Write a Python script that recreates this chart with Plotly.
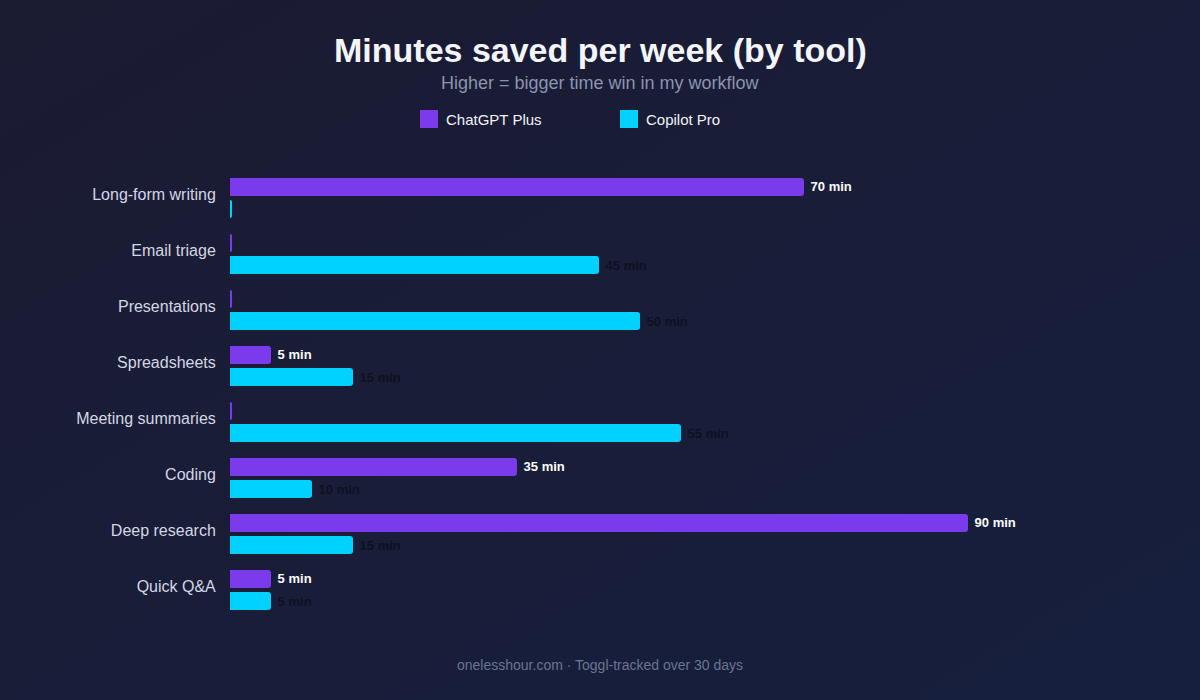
import base64
import plotly.graph_objects as go

categories = ["Long-form writing", "Email triage", "Presentations", "Spreadsheets",
              "Meeting summaries", "Coding", "Deep research", "Quick Q&A"]
chatgpt_plus = [70, 0, 0, 5, 0, 35, 90, 5]
copilot_pro = [0, 45, 50, 15, 55, 10, 15, 5]
series_names = ["ChatGPT Plus", "Copilot Pro"]
series_colors = ["#7c3aed", "#00d2ff"]
label_colors = ["#ffffff", "#0d1120"]

W, H = 1200, 700
ML, MR, MT, MB = 230, 150, 170, 82
PW, PH = W - ML - MR, H - MT - MB
MIN_LEN = 0.25  # minimum rendered bar length (like minBarLength)
FONT = "Liberation Sans, Arial, sans-serif"

def px_x(p):
    return (p - ML) / PW

def px_y(p):
    return (H - MB - p) / PH

fig = go.Figure()
for name, vals, col, lcol in zip(series_names, [chatgpt_plus, copilot_pro], series_colors, label_colors):
    fig.add_trace(go.Bar(
        y=categories, x=[max(v, MIN_LEN) for v in vals], orientation="h", name=name,
        marker=dict(color=col, cornerradius=3, line=dict(width=0)),
        text=[f" {v} min" if v > 0 else "" for v in vals],
        textposition="outside", cliponaxis=False,
        textfont=dict(family=FONT, size=13, color=lcol, weight="bold"),
        showlegend=False, hoverinfo="skip",
    ))

svg = f'''<svg xmlns="http://www.w3.org/2000/svg" width="{W}" height="{H}" viewBox="0 0 {W} {H}" preserveAspectRatio="none">
<defs><linearGradient id="g" x1="0" y1="0" x2="1" y2="1">
<stop offset="0" stop-color="#1b1b32"/><stop offset="1" stop-color="#161f3e"/></linearGradient></defs>
<rect width="{W}" height="{H}" fill="url(#g)"/></svg>'''
uri = "data:image/svg+xml;base64," + base64.b64encode(svg.encode()).decode()

shapes = []
annotations = []
annotations.append(dict(text="<b>Minutes saved per week (by tool)</b>", x=px_x(600), y=px_y(50),
                        xref="paper", yref="paper", showarrow=False, xanchor="center", yanchor="middle",
                        font=dict(family=FONT, size=34, color="#f4f5fa")))
annotations.append(dict(text="Higher = bigger time win in my workflow", x=px_x(600), y=px_y(83.5),
                        xref="paper", yref="paper", showarrow=False, xanchor="center", yanchor="middle",
                        font=dict(family=FONT, size=18, color="#8c94ac")))
annotations.append(dict(text="onelesshour.com · Toggl-tracked over 30 days", x=px_x(600), y=px_y(665),
                        xref="paper", yref="paper", showarrow=False, xanchor="center", yanchor="middle",
                        font=dict(family=FONT, size=14, color="#6b7490")))
for sx, tx, name, col in [(420, 444, series_names[0], series_colors[0]), (620, 644, series_names[1], series_colors[1])]:
    shapes.append(dict(type="rect", xref="paper", yref="paper", x0=px_x(sx), x1=px_x(sx + 18),
                       y0=px_y(110), y1=px_y(128), fillcolor=col, line=dict(width=0)))
    annotations.append(dict(text=name, x=px_x(tx), y=px_y(119.5), xref="paper", yref="paper",
                            showarrow=False, xanchor="left", yanchor="middle",
                            font=dict(family=FONT, size=15, color="#f1f3f8")))

fig.update_layout(
    width=W, height=H,
    margin=dict(l=ML, r=MR, t=MT, b=MB),
    paper_bgcolor="#191e37", plot_bgcolor="rgba(0,0,0,0)",
    barmode="group", bargap=0.214, bargroupgap=0.18,
    images=[dict(source=uri, xref="paper", yref="paper", x=px_x(0), y=px_y(0),
                 sizex=W / PW, sizey=H / PH, xanchor="left", yanchor="top",
                 sizing="stretch", layer="below")],
    xaxis=dict(range=[0, 100], visible=False, fixedrange=True),
    yaxis=dict(autorange="reversed", showgrid=False, zeroline=False, showline=False,
               ticks="outside", ticklen=10, tickcolor="rgba(0,0,0,0)", ticklabelshift=4,
               tickfont=dict(family=FONT, size=16, color="#d3d7e4")),
    shapes=shapes, annotations=annotations,
    showlegend=False,
)

fig.write_html("out.html")
